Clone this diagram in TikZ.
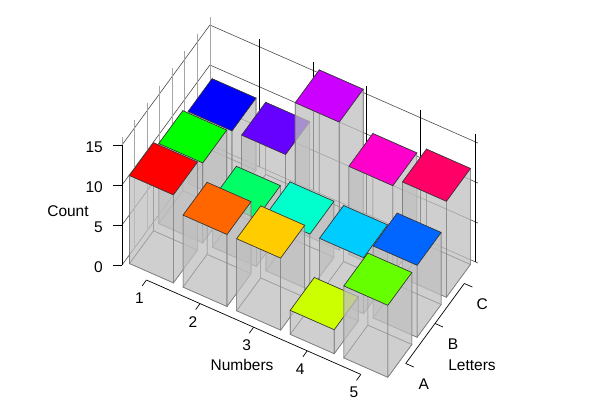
\documentclass[tikz,border=0pt]{standalone}
\usepackage{fontspec}
\setmainfont{Liberation Sans}
\tikzset{
  barface/.style={fill=black!25, fill opacity=0.5, draw=black!50, line width=0.6pt},
  bartop/.style={draw=black!80, line width=0.6pt},
  wallgrid/.style={draw=black!70, line width=0.6pt},
  wallpost/.style={draw=black!35, line width=0.8pt},
  backpost/.style={draw=black, line width=0.6pt},
  axisline/.style={draw=black, line width=0.7pt},
}
\begin{document}
\begin{tikzpicture}[x={(53.6pt,-23.6pt)}, y={(29.3pt,40pt)}, z={(0pt,8pt)}, font=\fontsize{15.5}{17}\selectfont]
\useasboundingbox (-122pt,265pt) rectangle (478pt,-135pt);
\foreach \h in {0,5,10,15}
  \draw[wallgrid] (0,0,\h) -- (0,3,\h) -- (5,3,\h);
\foreach \k in {0,...,7}
  \draw[wallpost] (0,{3*\k/7},0) -- (0,{3*\k/7},16);
\foreach \n in {0.92,1.92,2.92,3.92,4.95}
  \draw[backpost] (\n,3,0) -- (\n,3,16);
\foreach \l/\hlist in {2/{9,9,16,11,12},1/{10,6,7,7,9},0/{11,9,9,3,9}}{
  \foreach \h [count=\n] in \hlist {
    \pgfmathsetmacro\hue{(5*\l+\n-1)/15}
    \definecolor{huecol}{hsb}{\hue,1,1}
    \colorlet{topcol}[rgb]{huecol}
    \pgfmathsetmacro\na{\n-1+0.09}
    \pgfmathsetmacro\nb{\n-0.09}
    \pgfmathsetmacro\la{\l+0.09}
    \pgfmathsetmacro\lb{\l+1-0.09}
    \filldraw[barface] (\na,\la,0) -- (\nb,\la,0) -- (\nb,\lb,0) -- (\na,\lb,0) -- cycle;
    \filldraw[barface] (\na,\lb,0) -- (\nb,\lb,0) -- (\nb,\lb,\h) -- (\na,\lb,\h) -- cycle;
    \filldraw[barface] (\na,\la,0) -- (\na,\lb,0) -- (\na,\lb,\h) -- (\na,\la,\h) -- cycle;
    \filldraw[barface] (\na,\la,0) -- (\nb,\la,0) -- (\nb,\la,\h) -- (\na,\la,\h) -- cycle;
    \filldraw[barface] (\nb,\la,0) -- (\nb,\lb,0) -- (\nb,\lb,\h) -- (\nb,\la,\h) -- cycle;
    \filldraw[bartop, fill=topcol] (\na,\la,\h) -- (\nb,\la,\h) -- (\nb,\lb,\h) -- (\na,\lb,\h) -- cycle;
  }
}
\draw[axisline] (0,0,0) -- (0,0,15);
\foreach \h in {0,5,10,15}{
  \draw[axisline] (0,0,\h) -- ++(-9pt,0pt);
  \node[anchor=east, inner sep=0pt] (cnt\h) at ([shift={(-19pt,-2pt)}]0,0,\h) {\h};
}
\node (countlab) at (-54pt,54pt) {Count};
\draw[axisline] (0.5,-0.08,0) -- (4.5,-0.08,0);
\foreach \n in {1,...,5}{
  \draw[axisline] ({\n-0.5},-0.08,0) -- ({\n-0.5},-0.23,0);
  \node[inner sep=1pt] (num\n) at ([shift={(-7pt,-18pt)}]{\n-0.5},-0.08,0) {\n};
}
\node (numtitle) at (120pt,-100pt) {Numbers};
\draw[axisline] (5.02,0.5,0) -- (5.02,2.5,0);
\foreach \name [count=\k] in {A,B,C}{
  \draw[axisline] (5.02,{\k-0.5},0) -- (5.17,{\k-0.5},0);
  \node (let\name) at ([shift={(18pt,-21pt)}]5.02,{\k-0.5},0) {\name};
}
\node (lettitle) at (350pt,-100pt) {Letters};
\end{tikzpicture}
\end{document}
